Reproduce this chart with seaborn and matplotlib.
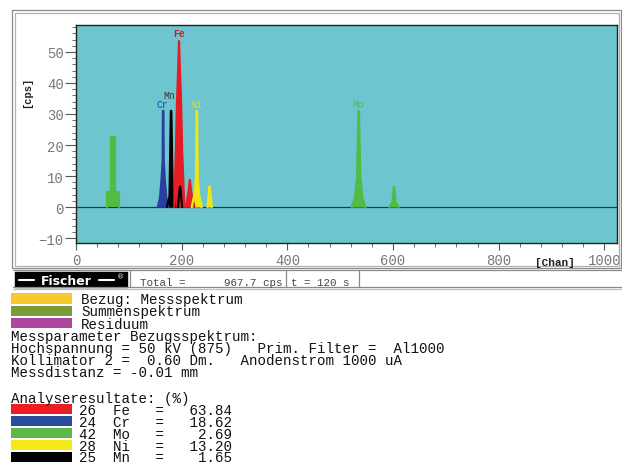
import matplotlib
matplotlib.use("Agg")
import matplotlib.pyplot as plt
import numpy as np
import pandas as pd
import seaborn as sns
from matplotlib.ticker import MultipleLocator
from matplotlib.patches import Rectangle
from matplotlib.lines import Line2D

# ---------------- spectrum data (channel, cps) ----------------
mo_esc_ch = [59, 59, 66, 66, 74, 74, 81, 81]
mo_esc_cps = [0, 5, 5, 22.5, 22.5, 5, 5, 0]

cr_ka_ch = [155, 159, 162, 164, 164.6, 165.4, 166, 168, 171, 175]
cr_ka_cps = [0, 3, 9, 15, 31, 31, 15, 9, 3, 0]

mn_ka_ch = [172, 177, 179.6, 180.4, 183, 188]
mn_ka_cps = [0, 3.5, 31, 31, 3.5, 0]
mn_kb_ch = [193, 196.6, 197.4, 201]
mn_kb_cps = [0, 6.5, 6.5, 0]

fe_ka_ch = [186, 189, 191.2, 193.5, 195, 196.5, 198.8, 201, 205]
fe_ka_cps = [0, 17.7, 34, 45, 53.5, 45, 34, 17.7, 0]
fe_kb_ch = [208, 213, 215.5, 218, 224]
fe_kb_cps = [0, 5, 8.7, 5, 0]

ni_ka_ch = [219, 224, 227, 228.3, 229.1, 230.5, 233, 238]
ni_ka_cps = [0, 4, 9, 31, 31, 9, 4, 0]
ni_kb_ch = [249, 252.3, 253.3, 257]
ni_kb_cps = [0, 6.5, 6.5, 0]

mo_ka_ch = [522, 528, 532, 534.8, 535.6, 538, 542, 548]
mo_ka_cps = [0, 3, 9.7, 31, 31, 9.7, 3, 0]
mo_kb_ch = [593, 599, 601.6, 602.4, 605, 611]
mo_kb_cps = [0, 1.5, 6.5, 6.5, 1.5, 0]

# peak labels
label_text = ["Cr", "Mn", "Fe", "Ni", "Mo"]
label_chan = [163, 176, 195, 227, 535]
label_cps = [33.2, 36.0, 56.0, 33.2, 33.2]

# axis ticks
x_ticks = [0, 200, 400, 600, 800, 1000]
y_ticks = [-10, 0, 10, 20, 30, 40, 50]

# status bar
total_cps = "967.7"
meas_time = "120"

# legend of spectra
spec_legend = ["Bezug: Messspektrum", "Summenspektrum", "Residuum"]

# measurement parameters
param_lines = [
    "Messparameter Bezugsspektrum:",
    "Hochspannung = 50 kV (875)   Prim. Filter =  Al1000",
    "Kollimator 2 =  0.60 Dm.   Anodenstrom 1000 uA",
    "Messdistanz = -0.01 mm",
]

# analysis results
res_z = [26, 24, 42, 28, 25]
res_el = ["Fe", "Cr", "Mo", "Ni", "Mn"]
res_val = [63.84, 18.62, 2.69, 13.20, 1.65]

# ---------------- styling ----------------
sns.set_style("white")
plt.rcParams["font.family"] = ["Liberation Mono", "DejaVu Sans Mono"]

elem_colors = {"Fe": "#e51c24", "Cr": "#2a3f9d", "Mo": "#52bb44",
               "Ni": "#f0e614", "Mn": "#000000"}
label_colors = {"Fe": "#c8202a", "Cr": "#2a3fb0", "Mo": "#52bb44",
                "Ni": "#e8e41a", "Mn": "#333333"}
res_colors = ["#ee1c25", "#2b4c9b", "#5cb947", "#f3ea16", "#000000"]
spec_colors = ["#f8c92a", "#7c9c3a", "#b0479c"]

W, H = 622, 464


def fx(x):
    return x / W


def fy(y):
    return 1 - y / H


fig = plt.figure(figsize=(W / 100, H / 100), dpi=100)
renderer = fig.canvas.get_renderer()
ax = fig.add_axes([fx(76), fy(244), (617 - 76) / W, (244 - 26) / H])
ax.set_facecolor("#6dc5cf")

peaks = [
    ("Mo esc", "Mo", mo_esc_ch, mo_esc_cps),
    ("Cr Ka", "Cr", cr_ka_ch, cr_ka_cps),
    ("Mn Ka", "Mn", mn_ka_ch, mn_ka_cps),
    ("Mn Kb", "Mn", mn_kb_ch, mn_kb_cps),
    ("Fe Ka", "Fe", fe_ka_ch, fe_ka_cps),
    ("Fe Kb", "Fe", fe_kb_ch, fe_kb_cps),
    ("Ni Ka", "Ni", ni_ka_ch, ni_ka_cps),
    ("Ni Kb", "Ni", ni_kb_ch, ni_kb_cps),
    ("Mo Ka", "Mo", mo_ka_ch, mo_ka_cps),
    ("Mo Kb", "Mo", mo_kb_ch, mo_kb_cps),
]
df = pd.concat([pd.DataFrame({"peak": p, "element": e, "chan": c, "cps": v})
                for p, e, c, v in peaks], ignore_index=True)

ax.axhline(0, color="#333333", lw=0.9, zorder=1)
for p, g in df.groupby("peak", sort=False):
    ax.fill_between(g["chan"], 0, g["cps"],
                    color=elem_colors[g["element"].iloc[0]], lw=0, zorder=2)
sns.lineplot(data=df, x="chan", y="cps", hue="element", units="peak",
             estimator=None, sort=False, palette=elem_colors, lw=1.6,
             legend=False, ax=ax, zorder=3)

for t, c, v in zip(label_text, label_chan, label_cps):
    ax.text(c, v, t, color=label_colors[t], fontsize=7, ha="center",
            va="center", fontweight="bold" if t == "Fe" else "normal")

ax.set_xlim(0, 1024)
ax.set_ylim(-11.6, 58.7)
ax.set_xticks(x_ticks)
ax.set_yticks(y_ticks)
ax.xaxis.set_minor_locator(MultipleLocator(40))
ax.yaxis.set_minor_locator(MultipleLocator(2))
ax.tick_params(axis="x", which="major", direction="out", length=5, width=0.8,
               color="#555555", labelcolor="#777777", labelsize=10, pad=2,
               bottom=True)
ax.tick_params(axis="x", which="minor", direction="out", length=3, width=0.6,
               color="#555555", bottom=True)
ax.tick_params(axis="y", which="major", direction="out", length=8, width=0.8,
               color="#555555", labelcolor="#777777", labelsize=10, pad=1,
               left=True)
ax.tick_params(axis="y", which="minor", direction="out", length=3, width=0.6,
               color="#555555", left=True)
ax.set_xlabel("")
ax.set_ylabel("")
for s in ax.spines.values():
    s.set_color("#222222")
    s.set_linewidth(1.0)

fig.text(fx(27), fy(92), "[cps]", rotation=90, fontsize=7.5,
         fontweight="bold", ha="center", va="center", color="#222222")
fig.text(fx(555), fy(263), "[Chan]", fontsize=8, fontweight="bold",
         ha="center", va="center", color="#222222")

# ---------------- frames ----------------
for (x0, y0, x1, y1, col) in [(12, 11, 621, 269, "#8a8a8a"),
                              (14.5, 14, 619, 267, "#b0b0b0")]:
    fig.add_artist(Rectangle((fx(x0), fy(y1)), fx(x1) - fx(x0),
                             fy(y0) - fy(y1), transform=fig.transFigure,
                             fill=False, ec=col, lw=0.9))
for y, col in [(271, "#8a8a8a"), (288, "#8a8a8a"), (290, "#c0c0c0")]:
    fig.add_artist(Line2D([fx(13), fx(622)], [fy(y), fy(y)],
                          transform=fig.transFigure, color=col, lw=0.9))
for x in [130, 286, 359]:
    fig.add_artist(Line2D([fx(x), fx(x)], [fy(272), fy(288)],
                          transform=fig.transFigure, color="#8a8a8a", lw=0.9))

# logo box
fig.add_artist(Rectangle((fx(15), fy(288)), fx(127) - fx(15),
                         fy(273) - fy(288), transform=fig.transFigure,
                         fc="black", ec="black"))
fig.text(fx(66), fy(281.5), "Fischer", color="white", fontsize=9,
         fontweight="bold", ha="center", va="center", family="DejaVu Sans")
for xa, xb in [(19, 34), (99, 114)]:
    fig.add_artist(Line2D([fx(xa), fx(xb)], [fy(281), fy(281)],
                          transform=fig.transFigure, color="white", lw=1.5))
fig.text(fx(120.5), fy(277.5), "®", color="white", fontsize=5,
         ha="center", va="center", family="DejaVu Sans")

fig.text(fx(140), fy(285.5), "Total =", fontsize=7.8, color="#444444",
         va="baseline")
fig.text(fx(282), fy(285.5), f"{total_cps} cps", fontsize=7.8,
         color="#444444", va="baseline", ha="right")
fig.text(fx(291), fy(285.5), f"t = {meas_time} s", fontsize=7.8,
         color="#444444", va="baseline")

# ---------------- text blocks below the spectrum ----------------
fs = 10.2


def text_block(x, first_base, lines, step):
    """Multi-line block whose first baseline sits at first_base and whose
    lines are step pixels apart."""
    n = len(lines)
    last_base = first_base + step * (n - 1)
    t = fig.text(fx(x), fy(last_base), "\n".join(lines), fontsize=fs,
                 va="baseline", color="#111111", linespacing=1.0)
    one = fig.text(0, 0, lines[0], fontsize=fs)
    h1 = one.get_window_extent(renderer).height
    one.remove()
    ls = 1.0
    for _ in range(6):
        t.set_linespacing(ls)
        hm = t.get_window_extent(renderer).height
        actual = (hm - h1) / (n - 1)
        ls *= step / actual
    t.set_linespacing(ls)
    return t


step1 = 12.15
sw_top = [294, 306.5, 318.7]
for top, col in zip(sw_top, spec_colors):
    fig.add_artist(Rectangle((fx(11), fy(top + 10.5)), fx(72) - fx(11),
                             fy(top) - fy(top + 10.5),
                             transform=fig.transFigure, fc=col, ec="none"))
text_block(81, 304.3, spec_legend, step1)
text_block(11, 304.3 + 3 * step1, param_lines, step1)

# ---------------- analysis results ----------------
step2 = 11.9
res_lines = ["Analyseresultate: (%)"] + [
    f"        {z:<4d}{el:<5s}=  {v:6.2f}"
    for z, el, v in zip(res_z, res_el, res_val)]
for i, col in enumerate(res_colors):
    top = 405 + step2 * i
    fig.add_artist(Rectangle((fx(11), fy(top + 10)), fx(72) - fx(11),
                             fy(top) - fy(top + 10),
                             transform=fig.transFigure, fc=col, ec="none"))
text_block(11, 403, res_lines, step2)

fig.savefig("out.png", dpi=100)
